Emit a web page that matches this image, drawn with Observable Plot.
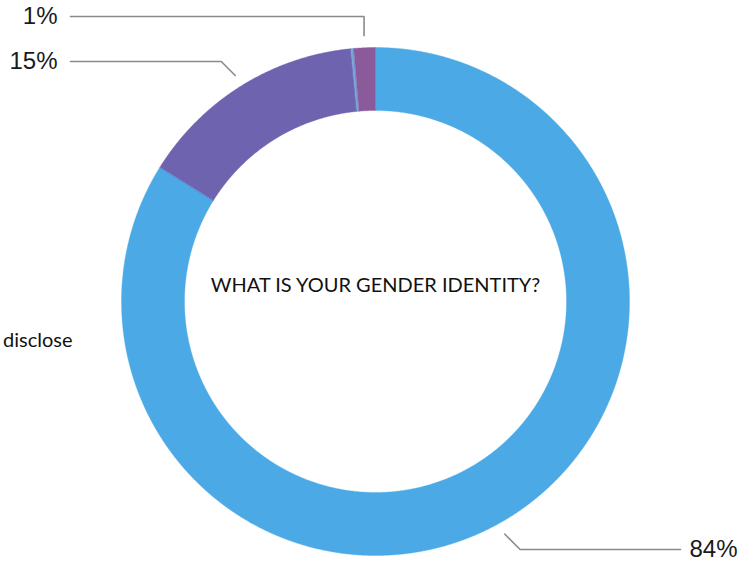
<!DOCTYPE html>
<html><head><meta charset="utf-8">
<script src="https://cdn.jsdelivr.net/npm/d3@7"></script>
<script src="https://cdn.jsdelivr.net/npm/@observablehq/plot@0.6"></script>
<style>html,body{margin:0;padding:0;background:#fff;overflow:hidden;}</style>
</head><body><div id="chart"></div>
<script>
// ---- data ----
const categories = ["Male", "Female", "Prefer not to disclose", "Non-binary"];
const shares = [83.86, 14.6, 0.17, 1.37];
const percentLabels = ["84%", "15%", "", "1%"];
const colors = ["#4BA9E6", "#6E63AF", "#72A7DB", "#8A5A9B"];
const centerTitle = "WHAT IS YOUR GENDER IDENTITY?";
const sideLabel = "disclose";

// ---- layout ----
const W = 753, H = 561;
const CX = 375, CY = 301;
const R_OUT = 254, R_IN = 191, R_LEAD = 266;
// per-label leader layout (plot units = px, y up, origin at donut center)
const leaderLayout = {
  "84%": {lineY: -248, mode: "diag", endX: 305, textX: 314, anchor: "start"},
  "15%": {lineY: 240, mode: "diag", endX: -305, textX: -318, anchor: "end"},
  "1%":  {lineY: 285, mode: "vert", endX: -305, textX: -318, anchor: "end"}
};

// ---- build arcs from data ----
const total = d3.sum(shares);
const arcPts = [];
const leaders = [];
const labelRows = [];
let cum = 0;
categories.forEach((cat, i) => {
  const a0 = cum / total * 2 * Math.PI;
  cum += shares[i];
  const a1 = cum / total * 2 * Math.PI;
  const n = Math.max(2, Math.ceil((a1 - a0) / 0.004));
  const outer = d3.range(n + 1).map(k => a0 + (a1 - a0) * k / n);
  for (const a of outer) arcPts.push({cat, x: R_OUT * Math.sin(a), y: R_OUT * Math.cos(a)});
  for (const a of outer.slice().reverse()) arcPts.push({cat, x: R_IN * Math.sin(a), y: R_IN * Math.cos(a)});
  const lab = percentLabels[i];
  if (lab && leaderLayout[lab]) {
    const L = leaderLayout[lab];
    const m = (a0 + a1) / 2;
    const sx = R_LEAD * Math.sin(m), sy = R_LEAD * Math.cos(m);
    const dy = L.lineY - sy;
    const ex = L.mode === "diag" ? sx + Math.sign(L.endX) * Math.abs(dy) : sx;
    leaders.push({id: lab, x: sx, y: sy}, {id: lab, x: ex, y: L.lineY}, {id: lab, x: L.endX, y: L.lineY});
    labelRows.push({text: lab, x: L.textX, y: L.lineY, anchor: L.anchor});
  }
});

const chart = Plot.plot({
  width: W, height: H,
  margin: 0,
  x: {domain: [-CX, W - CX], axis: null},
  y: {domain: [CY - H, CY], axis: null},
  color: {domain: categories, range: colors},
  marks: [
    Plot.line(arcPts, {x: "x", y: "y", z: "cat", fill: "cat", stroke: "cat", strokeWidth: 0.4, curve: "linear-closed"}),
    Plot.line(leaders, {x: "x", y: "y", z: "id", stroke: "#8a8a8a", strokeWidth: 1.6}),
    Plot.text(labelRows.filter(d => d.anchor === "start"), {x: "x", y: "y", text: "text", textAnchor: "start", fontSize: 24, fill: "#1a1a1a", fontFamily: "Liberation Sans, Arial, sans-serif"}),
    Plot.text(labelRows.filter(d => d.anchor === "end"), {x: "x", y: "y", text: "text", textAnchor: "end", fontSize: 24, fill: "#1a1a1a", fontFamily: "Liberation Sans, Arial, sans-serif"}),
    Plot.text([centerTitle], {x: () => 0, y: () => 16, text: d => d, fontSize: 20, fill: "#111", fontFamily: "Lato, Open Sans, sans-serif"}),
    Plot.text([sideLabel], {x: () => -303, y: () => -39, text: d => d, textAnchor: "end", fontSize: 20, fill: "#111", fontFamily: "Lato, Open Sans, sans-serif"})
  ]
});
document.getElementById("chart").appendChild(chart);
</script>
</body></html>
